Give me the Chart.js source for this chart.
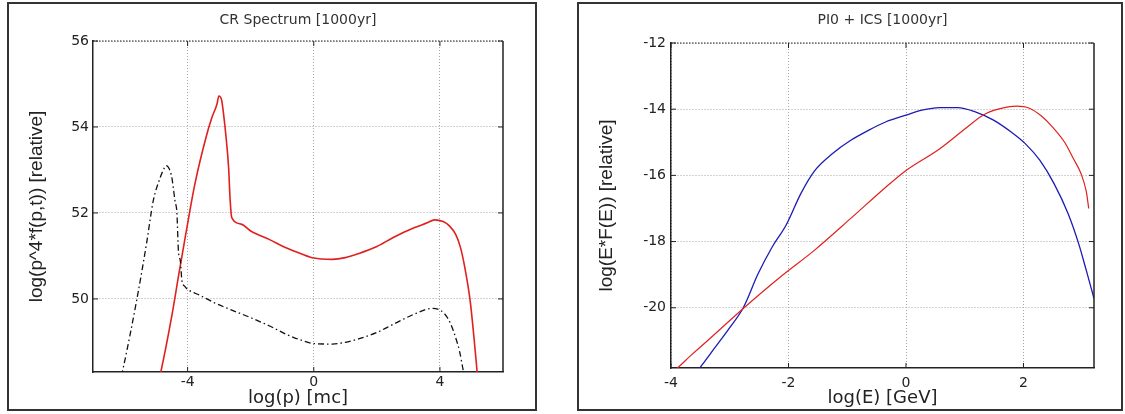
<!DOCTYPE html>
<html>
<head>
<meta charset="utf-8">
<script src="https://cdn.jsdelivr.net/npm/chart.js@4.4.1/dist/chart.umd.min.js"></script>
<style>
body{margin:0;background:#fff;width:1125px;height:414px;overflow:hidden;position:relative}
.panel{position:absolute;top:2px;height:409px;border:2px solid #333;box-sizing:border-box;background:#fff}
#p1{left:7px;width:530px}
#p2{left:577px;width:546px}
canvas{display:block}
</style>
</head>
<body>
<div class="panel" id="p1"><canvas id="c1" width="526" height="405"></canvas></div>
<div class="panel" id="p2"><canvas id="c2" width="542" height="405"></canvas></div>
<script>
// left panel : CR spectrum
const crRedX = [-4.95,-4.85,-4.51,-4.28,-4.06,-3.77,-3.39,-3.23,-3.07,-3.01,-2.92,-2.86,-2.79,-2.70,-2.65,-2.6,-2.3,-2.0,-1.4,-0.88,-0.4,0,0.59,1.0,1.4,2.0,2.52,3.2,3.6,3.83,4.1,4.3,4.5,4.65,4.79,4.96,5.08,5.18,5.24];
const crRedY = [48.0,48.3,49.57,50.57,51.5,52.67,53.83,54.22,54.53,54.72,54.62,54.3,53.83,53.05,52.28,51.89,51.74,51.58,51.38,51.19,51.05,50.95,50.92,50.96,51.05,51.22,51.43,51.66,51.77,51.84,51.8,51.7,51.5,51.2,50.73,49.95,49.1,48.3,47.8];
const crBlackX = [-6.2,-6.04,-5.62,-5.3,-5.09,-4.87,-4.75,-4.68,-4.58,-4.5,-4.4,-4.34,-4.29,-4.23,-4.18,-4.1,-4.03,-3.6,-3.15,-2.6,-2.02,-1.4,-0.88,-0.4,0,0.59,1.0,1.38,2.0,2.52,3.2,3.76,4.05,4.25,4.39,4.52,4.62,4.75,4.82];
const crBlackY = [47.9,48.4,49.95,51.3,52.28,52.82,53.03,53.1,53.02,52.82,52.28,52.0,51.1,50.88,50.42,50.3,50.24,50.08,49.91,49.74,49.57,49.37,49.18,49.04,48.96,48.95,48.99,49.06,49.22,49.41,49.65,49.78,49.72,49.55,49.33,49.05,48.79,48.29,48.0];
const crTicksX = [-4, 0, 4];
const crTicksY = [50, 52, 54, 56];

// right panel : PI0 + ICS
const gRedX = [-4.05,-3.92,-3.68,-3.37,-2.77,-2.16,-1.55,-0.94,-0.34,0,0.57,1.0,1.31,1.57,1.88,2.1,2.3,2.5,2.7,2.85,2.98,3.07,3.11];
const gRedY = [-22.0,-21.86,-21.47,-20.98,-20.02,-19.1,-18.25,-17.3,-16.35,-15.85,-15.2,-14.6,-14.18,-14.0,-13.91,-13.97,-14.2,-14.55,-15.0,-15.5,-15.95,-16.5,-17.0];
const gBlueX = [-3.6,-3.53,-3.25,-3.0,-2.77,-2.52,-2.28,-2.04,-1.79,-1.55,-1.25,-0.94,-0.64,-0.34,0,0.27,0.57,0.88,1.18,1.49,1.79,2.03,2.28,2.52,2.76,2.94,3.07,3.2];
const gBlueY = [-22.0,-21.86,-21.2,-20.6,-20.0,-18.98,-18.17,-17.5,-16.55,-15.85,-15.34,-14.94,-14.64,-14.38,-14.18,-14.03,-13.95,-13.95,-14.08,-14.33,-14.69,-15.04,-15.55,-16.25,-17.16,-18.07,-18.88,-19.72];
const gTicksX = [-4, -2, 0, 2];
const gTicksY = [-20, -18, -16, -14, -12];

function pts(xs, ys){
  return xs.map((x,i)=>({x:x, y:ys[i]}));
}

// top/right frame and inward tick marks
const frame = {
  id:'frame',
  afterDatasetsDraw(chart){
    const {ctx, chartArea:a} = chart;
    const x = chart.scales.x, y = chart.scales.y;
    ctx.save();
    ctx.strokeStyle = '#222';
    ctx.lineWidth = 1.5;
    ctx.beginPath();
    ctx.moveTo(a.right, a.top); ctx.lineTo(a.right, a.bottom);
    ctx.stroke();
    ctx.lineWidth = 1;
    ctx.setLineDash([1.5,1.5]);
    ctx.beginPath();
    ctx.moveTo(a.left, a.top); ctx.lineTo(a.right, a.top);
    ctx.stroke();
    ctx.setLineDash([]);
    ctx.beginPath();
    x.ticks.forEach(t=>{
      const px = x.getPixelForValue(t.value);
      ctx.moveTo(px, a.top); ctx.lineTo(px, a.top+5);
      ctx.moveTo(px, a.bottom); ctx.lineTo(px, a.bottom-5);
    });
    y.ticks.forEach(t=>{
      const py = y.getPixelForValue(t.value);
      ctx.moveTo(a.left, py); ctx.lineTo(a.left+5, py);
      ctx.moveTo(a.right, py); ctx.lineTo(a.right-5, py);
    });
    ctx.stroke();
    ctx.restore();
  }
};

function makeChart(id, o){
  return new Chart(document.getElementById(id), {
    type:'line',
    data:{datasets:o.datasets},
    options:{
      responsive:false,
      animation:false,
      devicePixelRatio:1,
      layout:{padding:{left:16, right:o.padRight, top:0, bottom:0}},
      plugins:{
        legend:{display:false},
        tooltip:{enabled:false},
        title:{display:true, text:o.title, fullSize:false, color:'#333',
          font:{family:'DejaVu Sans', size:14, weight:'normal'},
          padding:{top:8, bottom:o.titleGap}}
      },
      scales:{
        x:{
          type:'linear', min:o.xmin, max:o.xmax,
          afterBuildTicks:s=>{ s.ticks = o.xticks.map(v=>({value:v})); },
          afterFit:s=>{ s.height = o.xh; },
          grid:{color:'#a4a4a4', lineWidth:1, drawTicks:false},
          border:{color:'#222', width:1.5, dash:[1,2]},
          ticks:{color:'#222', padding:o.xpad, maxRotation:0, autoSkip:false,
            font:{family:'DejaVu Sans', size:14}},
          title:{display:true, text:o.xtitle, color:'#222', padding:{top:0, bottom:0},
            font:{family:'DejaVu Sans', size:18}}
        },
        y:{
          type:'linear', min:o.ymin, max:o.ymax,
          afterBuildTicks:s=>{ s.ticks = o.yticks.map(v=>({value:v})); },
          afterFit:s=>{ s.width = o.yw; },
          grid:{color:'#a4a4a4', lineWidth:1, drawTicks:false},
          border:{color:'#222', width:1.5, dash:[1,2]},
          ticks:{color:'#222', padding:o.ypad, autoSkip:false,
            font:{family:'DejaVu Sans', size:14}},
          title:{display:true, text:o.ytitle, color:'#222', padding:{top:0, bottom:0},
            font:{family:'Liberation Sans', size:19}}
        }
      }
    },
    plugins:[frame]
  });
}

function line(xs, ys, color, width, dash){
  return {
    data:pts(xs, ys),
    borderColor:color,
    borderWidth:width,
    borderDash:dash || [],
    pointRadius:0,
    cubicInterpolationMode:'monotone',
    fill:false,
    clip:0
  };
}

makeChart('c1', {
  title:'CR Spectrum [1000yr]',
  xtitle:'log(p) [mc]',
  ytitle:'log(p^4*f(p,t)) [relative]',
  xmin:-7, xmax:6, ymin:48.3, ymax:56,
  xticks:crTicksX, yticks:crTicksY,
  padRight:32, titleGap:12.2, xh:37, yw:68, xpad:2, ypad:4,
  datasets:[
    line(crBlackX, crBlackY, '#111', 1.3, [6,3,1.5,3]),
    line(crRedX, crRedY, '#e0201e', 1.6)
  ]
});

makeChart('c2', {
  title:'PI0 + ICS [1000yr]',
  xtitle:'log(E) [GeV]',
  ytitle:'log(E*F(E)) [relative]',
  xmin:-4, xmax:3.2, ymin:-21.82, ymax:-12,
  xticks:gTicksX, yticks:gTicksY,
  padRight:27, titleGap:14.2, xh:41, yw:76, xpad:7, ypad:5,
  datasets:[
    line(gRedX, gRedY, '#e0201e', 1.2),
    line(gBlueX, gBlueY, '#1c1cb4', 1.3)
  ]
});
</script>
</body>
</html>
